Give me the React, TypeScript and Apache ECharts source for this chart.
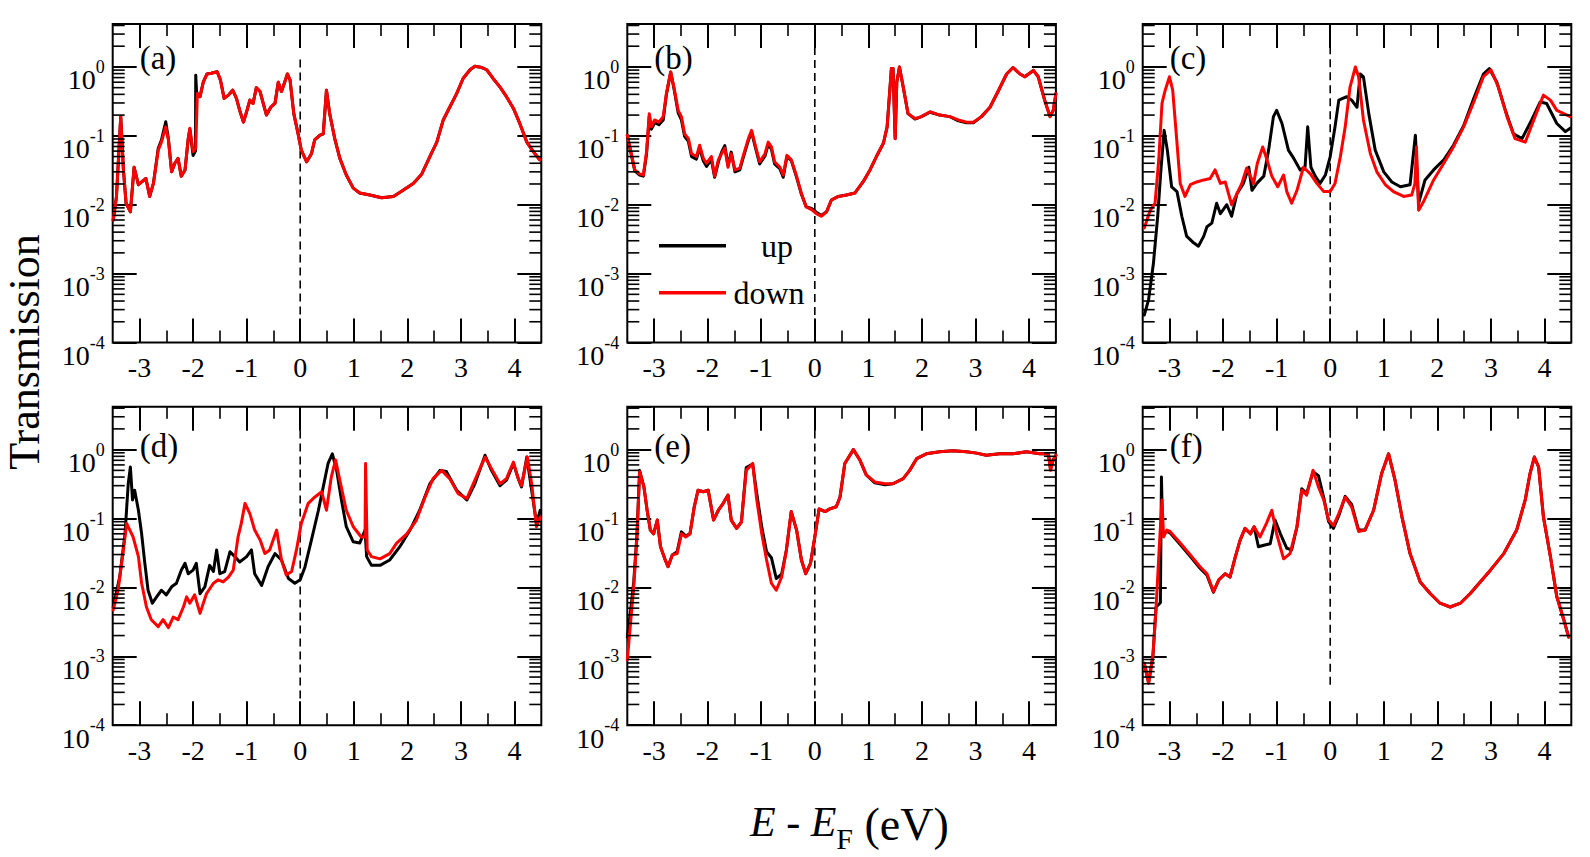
import React, { useEffect, useRef } from 'react';
import * as echarts from 'echarts';

const SERIF = '"Liberation Serif", "Times New Roman", serif';

const X_MIN = -3.5;
const X_MAX = 4.5;
const Y_MIN = 1e-4;
const Y_MAX = 4.2;

const xMajorTicks = [-3, -2, -1, 0, 1, 2, 3, 4];
const xMinorTicks = [-2.5, -1.5, -0.5, 0.5, 1.5, 2.5, 3.5];
const yDecades = [1e-4, 1e-3, 1e-2, 1e-1, 1];
const yMinorMultipliers = [2, 3, 4, 5, 6, 7, 8, 9];
const panelLabels = ['(a)', '(b)', '(c)', '(d)', '(e)', '(f)'];
const legendNames = ['up', 'down'];

// ---------- panel (a) ----------
const aDown = [[-3.49,0.0060],[-3.43,0.013],[-3.35,0.19],[-3.30,0.032],[-3.25,0.0105],[-3.17,0.0079],[-3.10,0.035],[-3.02,0.0195],[-2.96,0.0214],[-2.88,0.024],[-2.81,0.0132],[-2.74,0.0204],[-2.65,0.062],[-2.59,0.081],[-2.51,0.135],[-2.46,0.087],[-2.40,0.030],[-2.34,0.040],[-2.28,0.047],[-2.22,0.026],[-2.15,0.032],[-2.09,0.091],[-2.06,0.129],[-2.00,0.059],[-1.95,0.066],[-1.92,0.41],[-1.87,0.37],[-1.81,0.60],[-1.74,0.79],[-1.66,0.81],[-1.55,0.85],[-1.49,0.65],[-1.42,0.35],[-1.34,0.39],[-1.26,0.46],[-1.19,0.35],[-1.13,0.234],[-1.06,0.158],[-1.00,0.224],[-0.94,0.33],[-0.88,0.295],[-0.82,0.50],[-0.75,0.44],[-0.69,0.295],[-0.63,0.20],[-0.55,0.26],[-0.47,0.295],[-0.41,0.60],[-0.35,0.44],[-0.29,0.60],[-0.24,0.79],[-0.19,0.65],[-0.12,0.21],[-0.04,0.107],[0.02,0.062],[0.12,0.042],[0.21,0.055],[0.27,0.087],[0.37,0.102],[0.43,0.107],[0.49,0.46],[0.55,0.21],[0.65,0.087],[0.74,0.047],[0.86,0.027],[0.99,0.0174],[1.11,0.0148],[1.30,0.0138],[1.52,0.0126],[1.74,0.0132],[1.92,0.0162],[2.11,0.0204],[2.27,0.028],[2.42,0.050],[2.55,0.081],[2.67,0.17],[2.79,0.26],[2.92,0.41],[3.04,0.68],[3.17,0.91],[3.26,1.02],[3.39,0.98],[3.48,0.91],[3.60,0.68],[3.73,0.51],[3.85,0.37],[3.98,0.25],[4.10,0.15],[4.23,0.081],[4.35,0.059],[4.47,0.045]];
const aUp = [[-3.49,0.0060],[-3.43,0.013],[-3.35,0.19],[-3.30,0.032],[-3.25,0.0105],[-3.17,0.0079],[-3.10,0.035],[-3.02,0.0195],[-2.96,0.0214],[-2.88,0.024],[-2.81,0.0132],[-2.74,0.0204],[-2.65,0.066],[-2.59,0.087],[-2.51,0.16],[-2.46,0.090],[-2.40,0.030],[-2.34,0.040],[-2.28,0.047],[-2.22,0.026],[-2.15,0.032],[-2.09,0.091],[-2.06,0.125],[-2.00,0.052],[-1.955,0.060],[-1.95,0.76],[-1.935,0.44],[-1.92,0.41],[-1.87,0.37],[-1.81,0.60],[-1.74,0.79],[-1.66,0.81],[-1.55,0.85],[-1.49,0.65],[-1.42,0.35],[-1.34,0.39],[-1.26,0.46],[-1.19,0.35],[-1.13,0.234],[-1.06,0.158],[-1.00,0.224],[-0.94,0.33],[-0.88,0.295],[-0.82,0.50],[-0.75,0.44],[-0.69,0.295],[-0.63,0.20],[-0.55,0.26],[-0.47,0.30],[-0.41,0.60],[-0.35,0.44],[-0.29,0.60],[-0.24,0.79],[-0.19,0.65],[-0.12,0.21],[-0.04,0.107],[0.02,0.062],[0.12,0.042],[0.21,0.055],[0.27,0.087],[0.37,0.102],[0.43,0.107],[0.49,0.46],[0.55,0.21],[0.65,0.087],[0.74,0.047],[0.86,0.027],[0.99,0.0174],[1.11,0.0148],[1.30,0.0138],[1.52,0.0126],[1.74,0.0132],[1.92,0.0162],[2.11,0.0204],[2.27,0.028],[2.42,0.050],[2.55,0.081],[2.67,0.17],[2.79,0.26],[2.92,0.41],[3.04,0.68],[3.17,0.91],[3.26,1.02],[3.39,0.98],[3.48,0.91],[3.60,0.68],[3.73,0.51],[3.85,0.37],[3.98,0.25],[4.10,0.15],[4.23,0.081],[4.35,0.059],[4.47,0.045]];
const fermiA = [[0,1.28],[0,1e-4]];

// ---------- panel (b) ----------
const bDown = [[-3.50,0.102],[-3.44,0.062],[-3.36,0.032],[-3.27,0.028],[-3.20,0.027],[-3.14,0.059],[-3.09,0.21],[-3.05,0.135],[-2.99,0.17],[-2.91,0.158],[-2.83,0.19],[-2.77,0.41],[-2.69,0.85],[-2.63,0.51],[-2.55,0.234],[-2.49,0.19],[-2.43,0.107],[-2.36,0.091],[-2.30,0.055],[-2.21,0.050],[-2.15,0.073],[-2.08,0.047],[-2.02,0.040],[-1.93,0.050],[-1.87,0.026],[-1.80,0.045],[-1.74,0.055],[-1.68,0.066],[-1.62,0.035],[-1.56,0.055],[-1.49,0.032],[-1.40,0.034],[-1.34,0.050],[-1.24,0.091],[-1.18,0.12],[-1.12,0.078],[-1.03,0.042],[-0.93,0.055],[-0.87,0.081],[-0.81,0.069],[-0.75,0.042],[-0.65,0.035],[-0.59,0.027],[-0.52,0.052],[-0.44,0.045],[-0.34,0.026],[-0.25,0.0145],[-0.16,0.0093],[-0.06,0.0085],[0.03,0.0074],[0.12,0.0068],[0.22,0.0079],[0.31,0.0117],[0.44,0.0132],[0.59,0.0138],[0.75,0.0148],[0.90,0.0214],[1.03,0.032],[1.15,0.050],[1.28,0.078],[1.35,0.135],[1.43,0.95],[1.46,0.95],[1.50,0.091],[1.53,0.60],[1.58,1.0],[1.65,0.51],[1.74,0.21],[1.87,0.178],[1.99,0.19],[2.15,0.224],[2.33,0.20],[2.52,0.19],[2.68,0.17],[2.83,0.158],[2.96,0.158],[3.11,0.19],[3.27,0.26],[3.42,0.44],[3.58,0.79],[3.70,0.98],[3.83,0.79],[3.92,0.72],[4.08,0.89],[4.17,0.72],[4.29,0.33],[4.39,0.19],[4.45,0.234],[4.50,0.41]];
const bUp = [[-3.50,0.102],[-3.44,0.060],[-3.36,0.031],[-3.27,0.027],[-3.20,0.026],[-3.14,0.055],[-3.09,0.19],[-3.05,0.125],[-2.99,0.155],[-2.91,0.145],[-2.83,0.17],[-2.77,0.40],[-2.69,0.84],[-2.63,0.49],[-2.55,0.215],[-2.49,0.17],[-2.43,0.098],[-2.36,0.083],[-2.30,0.050],[-2.21,0.046],[-2.15,0.066],[-2.08,0.043],[-2.02,0.036],[-1.93,0.045],[-1.87,0.025],[-1.80,0.042],[-1.74,0.058],[-1.68,0.072],[-1.62,0.037],[-1.56,0.058],[-1.49,0.030],[-1.40,0.032],[-1.34,0.047],[-1.24,0.086],[-1.18,0.113],[-1.12,0.073],[-1.03,0.039],[-0.93,0.051],[-0.87,0.075],[-0.81,0.064],[-0.75,0.039],[-0.65,0.033],[-0.59,0.025],[-0.52,0.050],[-0.44,0.044],[-0.34,0.025],[-0.25,0.0142],[-0.16,0.0093],[-0.06,0.0088],[0.03,0.0078],[0.12,0.0070],[0.22,0.0079],[0.31,0.0117],[0.44,0.0132],[0.59,0.0138],[0.75,0.0148],[0.90,0.0214],[1.03,0.032],[1.15,0.050],[1.28,0.078],[1.35,0.135],[1.43,0.95],[1.46,0.95],[1.50,0.091],[1.53,0.60],[1.58,1.0],[1.65,0.51],[1.74,0.21],[1.87,0.175],[1.99,0.19],[2.15,0.22],[2.33,0.20],[2.52,0.19],[2.68,0.165],[2.83,0.155],[2.96,0.155],[3.11,0.19],[3.27,0.26],[3.42,0.44],[3.58,0.79],[3.70,0.98],[3.83,0.79],[3.92,0.72],[4.08,0.89],[4.17,0.72],[4.29,0.33],[4.39,0.19],[4.45,0.234],[4.50,0.41]];
const fermiB = [[0,1.95],[0,1e-4]];

// ---------- panel (c) ----------
const cDown = [[-3.47,0.0046],[-3.36,0.0083],[-3.27,0.0105],[-3.20,0.045],[-3.14,0.295],[-3.08,0.46],[-3.00,0.72],[-2.94,0.46],[-2.87,0.098],[-2.80,0.0204],[-2.71,0.0132],[-2.61,0.0195],[-2.49,0.0214],[-2.36,0.0229],[-2.24,0.024],[-2.15,0.032],[-2.05,0.0204],[-1.96,0.0214],[-1.84,0.010],[-1.74,0.0145],[-1.65,0.0204],[-1.56,0.034],[-1.49,0.026],[-1.43,0.0204],[-1.36,0.040],[-1.26,0.069],[-1.18,0.045],[-1.09,0.026],[-0.98,0.0182],[-0.87,0.027],[-0.81,0.0155],[-0.72,0.0105],[-0.62,0.0162],[-0.50,0.035],[-0.37,0.028],[-0.25,0.0204],[-0.12,0.0155],[0.00,0.0155],[0.09,0.0204],[0.19,0.050],[0.28,0.135],[0.37,0.51],[0.47,1.0],[0.53,0.72],[0.62,0.17],[0.75,0.055],[0.87,0.030],[1.03,0.0195],[1.18,0.0155],[1.37,0.0132],[1.52,0.0138],[1.58,0.020],[1.61,0.069],[1.65,0.0083],[1.74,0.011],[1.93,0.0229],[2.12,0.040],[2.30,0.069],[2.49,0.135],[2.68,0.31],[2.86,0.72],[3.00,0.91],[3.14,0.51],[3.30,0.19],[3.45,0.091],[3.64,0.081],[3.80,0.17],[3.98,0.39],[4.11,0.33],[4.23,0.234],[4.36,0.21],[4.48,0.19]];
const cUp = [[-3.47,0.00025],[-3.39,0.00042],[-3.30,0.0014],[-3.22,0.0068],[-3.16,0.032],[-3.10,0.12],[-3.04,0.062],[-2.96,0.0182],[-2.86,0.0155],[-2.77,0.0068],[-2.68,0.0035],[-2.55,0.0028],[-2.46,0.0025],[-2.36,0.0035],[-2.30,0.0048],[-2.21,0.0054],[-2.12,0.0105],[-2.05,0.0074],[-1.93,0.010],[-1.84,0.0068],[-1.74,0.0145],[-1.62,0.0204],[-1.52,0.035],[-1.46,0.0162],[-1.37,0.0204],[-1.24,0.026],[-1.15,0.062],[-1.06,0.19],[-1.00,0.234],[-0.90,0.151],[-0.78,0.062],[-0.68,0.047],[-0.56,0.032],[-0.47,0.035],[-0.42,0.135],[-0.36,0.035],[-0.28,0.026],[-0.19,0.0204],[-0.09,0.027],[0.00,0.050],[0.09,0.135],[0.16,0.33],[0.31,0.37],[0.40,0.33],[0.50,0.26],[0.56,0.79],[0.62,0.72],[0.72,0.21],[0.84,0.062],[1.00,0.030],[1.15,0.0214],[1.31,0.0182],[1.49,0.0195],[1.59,0.102],[1.65,0.0105],[1.77,0.0229],[1.93,0.032],[2.12,0.045],[2.30,0.073],[2.49,0.14],[2.68,0.35],[2.86,0.79],[2.97,0.95],[3.11,0.60],[3.27,0.234],[3.42,0.107],[3.58,0.091],[3.76,0.17],[3.92,0.31],[4.04,0.295],[4.23,0.151],[4.39,0.115],[4.48,0.129]];
const fermiC = [[0,2.0],[0,2.4e-4]];

// ---------- panel (d) ----------
const dUp = [[-3.49,0.0052],[-3.37,0.0141],[-3.27,0.060],[-3.21,0.32],[-3.17,0.56],[-3.13,0.186],[-3.09,0.257],[-3.02,0.132],[-2.96,0.060],[-2.90,0.0224],[-2.84,0.0091],[-2.76,0.0059],[-2.68,0.0073],[-2.59,0.0091],[-2.50,0.0078],[-2.40,0.0102],[-2.31,0.0115],[-2.22,0.0178],[-2.15,0.0224],[-2.09,0.0158],[-2.00,0.0178],[-1.94,0.0224],[-1.87,0.0081],[-1.78,0.0102],[-1.69,0.0209],[-1.62,0.0170],[-1.56,0.035],[-1.50,0.0158],[-1.41,0.0170],[-1.31,0.033],[-1.22,0.028],[-1.13,0.0234],[-1.00,0.028],[-0.91,0.035],[-0.85,0.0158],[-0.72,0.0107],[-0.60,0.020],[-0.47,0.031],[-0.35,0.025],[-0.22,0.0135],[-0.10,0.0115],[0.00,0.0129],[0.09,0.020],[0.21,0.049],[0.34,0.132],[0.43,0.288],[0.52,0.63],[0.60,0.87],[0.68,0.50],[0.77,0.186],[0.86,0.076],[0.99,0.046],[1.11,0.044],[1.21,0.068],[1.24,0.028],[1.33,0.0209],[1.49,0.0209],[1.67,0.025],[1.86,0.039],[2.05,0.068],[2.23,0.132],[2.42,0.32],[2.61,0.50],[2.73,0.48],[2.92,0.257],[3.11,0.186],[3.26,0.32],[3.45,0.83],[3.57,0.50],[3.73,0.30],[3.85,0.36],[3.98,0.63],[4.07,0.38],[4.13,0.288],[4.23,0.78],[4.32,0.257],[4.41,0.085],[4.48,0.132]];
const dDown = [[-3.49,0.0047],[-3.40,0.0091],[-3.30,0.035],[-3.24,0.085],[-3.18,0.068],[-3.12,0.054],[-3.02,0.028],[-2.96,0.0115],[-2.87,0.0052],[-2.78,0.0034],[-2.65,0.0027],[-2.56,0.0034],[-2.46,0.0026],[-2.37,0.0037],[-2.28,0.0034],[-2.18,0.0052],[-2.12,0.0073],[-2.06,0.0059],[-1.97,0.0078],[-1.87,0.0042],[-1.75,0.0081],[-1.62,0.0115],[-1.53,0.0129],[-1.44,0.012],[-1.34,0.0141],[-1.25,0.0178],[-1.16,0.054],[-1.10,0.085],[-1.03,0.166],[-0.94,0.118],[-0.85,0.068],[-0.75,0.049],[-0.66,0.031],[-0.57,0.035],[-0.44,0.068],[-0.35,0.025],[-0.26,0.0151],[-0.16,0.0170],[-0.07,0.035],[0.02,0.085],[0.15,0.166],[0.27,0.204],[0.40,0.245],[0.49,0.132],[0.58,0.40],[0.66,0.71],[0.74,0.36],[0.86,0.132],[0.99,0.076],[1.14,0.054],[1.21,0.054],[1.22,0.63],[1.25,0.035],[1.33,0.028],[1.49,0.026],[1.67,0.031],[1.80,0.044],[1.99,0.060],[2.17,0.095],[2.33,0.204],[2.48,0.38],[2.64,0.50],[2.79,0.38],[2.95,0.229],[3.11,0.195],[3.26,0.36],[3.45,0.78],[3.57,0.53],[3.73,0.32],[3.85,0.38],[3.98,0.66],[4.07,0.38],[4.13,0.30],[4.24,0.78],[4.32,0.32],[4.41,0.076],[4.48,0.105]];
const fermiD = [[0,1.9],[0,1e-4]];

// ---------- panel (e) ----------
const eDown = [[-3.50,0.00089],[-3.44,0.0030],[-3.38,0.0102],[-3.32,0.054],[-3.27,0.48],[-3.19,0.288],[-3.13,0.132],[-3.07,0.068],[-3.01,0.060],[-2.94,0.095],[-2.88,0.039],[-2.80,0.026],[-2.74,0.020],[-2.66,0.0295],[-2.57,0.031],[-2.49,0.060],[-2.41,0.054],[-2.33,0.060],[-2.25,0.148],[-2.18,0.257],[-2.08,0.245],[-1.99,0.257],[-1.89,0.095],[-1.80,0.132],[-1.71,0.166],[-1.62,0.219],[-1.56,0.095],[-1.46,0.072],[-1.37,0.089],[-1.28,0.50],[-1.16,0.63],[-1.09,0.204],[-0.99,0.060],[-0.90,0.025],[-0.81,0.0115],[-0.72,0.0091],[-0.62,0.0141],[-0.53,0.035],[-0.44,0.126],[-0.34,0.068],[-0.25,0.025],[-0.17,0.0158],[-0.08,0.0224],[0.00,0.054],[0.08,0.138],[0.19,0.126],[0.28,0.138],[0.40,0.148],[0.47,0.204],[0.56,0.63],[0.72,1.0],[0.84,0.71],[0.96,0.43],[1.12,0.34],[1.31,0.32],[1.46,0.32],[1.65,0.38],[1.77,0.50],[1.90,0.74],[2.08,0.87],[2.33,0.93],[2.58,0.96],[2.83,0.93],[3.02,0.89],[3.20,0.83],[3.45,0.87],[3.70,0.87],[3.95,0.93],[4.20,0.87],[4.36,0.87],[4.40,0.50],[4.45,0.71],[4.50,0.83]];
const eUp = [[-3.50,0.0019],[-3.44,0.0045],[-3.38,0.012],[-3.32,0.058],[-3.27,0.50],[-3.19,0.288],[-3.13,0.132],[-3.07,0.068],[-3.01,0.060],[-2.94,0.095],[-2.88,0.039],[-2.80,0.026],[-2.74,0.020],[-2.66,0.0295],[-2.57,0.033],[-2.49,0.064],[-2.41,0.056],[-2.33,0.060],[-2.25,0.148],[-2.18,0.257],[-2.08,0.245],[-1.99,0.257],[-1.89,0.095],[-1.80,0.132],[-1.71,0.166],[-1.62,0.219],[-1.56,0.095],[-1.46,0.072],[-1.37,0.089],[-1.28,0.55],[-1.16,0.62],[-1.09,0.25],[-0.99,0.075],[-0.90,0.033],[-0.81,0.027],[-0.72,0.0135],[-0.62,0.0155],[-0.53,0.035],[-0.44,0.126],[-0.34,0.068],[-0.25,0.025],[-0.17,0.0158],[-0.08,0.0224],[0.00,0.054],[0.08,0.138],[0.19,0.126],[0.28,0.138],[0.40,0.148],[0.47,0.204],[0.56,0.63],[0.72,1.0],[0.84,0.71],[0.96,0.43],[1.12,0.33],[1.31,0.31],[1.46,0.32],[1.65,0.38],[1.77,0.50],[1.90,0.74],[2.08,0.87],[2.33,0.93],[2.58,0.96],[2.83,0.93],[3.02,0.89],[3.20,0.83],[3.45,0.87],[3.70,0.87],[3.95,0.93],[4.20,0.87],[4.36,0.87],[4.40,0.52],[4.45,0.71],[4.50,0.83]];
const fermiE = [[0,1.9],[0,1e-4]];

// ---------- panel (f) ----------
const fDown = [[-3.47,0.00079],[-3.39,0.00041],[-3.31,0.0010],[-3.25,0.0052],[-3.19,0.039],[-3.14,0.186],[-3.11,0.054],[-3.05,0.068],[-2.99,0.065],[-2.80,0.044],[-2.61,0.0295],[-2.43,0.020],[-2.30,0.0158],[-2.18,0.0087],[-2.08,0.0129],[-1.96,0.0158],[-1.87,0.0141],[-1.77,0.028],[-1.68,0.049],[-1.59,0.072],[-1.49,0.060],[-1.42,0.076],[-1.31,0.054],[-1.19,0.085],[-1.09,0.132],[-1.00,0.060],[-0.87,0.026],[-0.75,0.031],[-0.62,0.076],[-0.53,0.257],[-0.44,0.219],[-0.32,0.50],[-0.22,0.288],[-0.12,0.186],[-0.03,0.095],[0.06,0.079],[0.16,0.118],[0.28,0.204],[0.40,0.148],[0.53,0.065],[0.65,0.068],[0.81,0.132],[0.96,0.45],[1.09,0.87],[1.21,0.36],[1.34,0.105],[1.49,0.031],[1.68,0.012],[1.87,0.0081],[2.05,0.0059],[2.24,0.0052],[2.43,0.0059],[2.61,0.0081],[2.80,0.012],[2.99,0.0178],[3.24,0.031],[3.48,0.068],[3.64,0.186],[3.73,0.45],[3.81,0.78],[3.89,0.56],[3.98,0.105],[4.11,0.028],[4.23,0.0073],[4.36,0.0034],[4.45,0.0019]];
const fUp = [[-3.47,0.00079],[-3.39,0.00041],[-3.31,0.0010],[-3.25,0.0052],[-3.17,0.0060],[-3.15,0.40],[-3.13,0.070],[-3.11,0.060],[-3.05,0.065],[-2.99,0.062],[-2.80,0.042],[-2.61,0.028],[-2.43,0.019],[-2.30,0.0150],[-2.18,0.0085],[-2.08,0.0129],[-1.96,0.0158],[-1.87,0.0141],[-1.77,0.028],[-1.68,0.049],[-1.59,0.072],[-1.49,0.060],[-1.42,0.076],[-1.34,0.039],[-1.24,0.041],[-1.12,0.043],[-1.03,0.095],[-0.93,0.060],[-0.81,0.037],[-0.72,0.035],[-0.62,0.076],[-0.53,0.27],[-0.44,0.23],[-0.32,0.48],[-0.22,0.42],[-0.12,0.20],[-0.03,0.090],[0.06,0.072],[0.16,0.110],[0.28,0.21],[0.40,0.16],[0.53,0.068],[0.65,0.068],[0.81,0.132],[0.96,0.45],[1.09,0.87],[1.21,0.36],[1.34,0.105],[1.49,0.031],[1.68,0.012],[1.87,0.0081],[2.05,0.0059],[2.24,0.0052],[2.43,0.0059],[2.61,0.0081],[2.80,0.012],[2.99,0.0178],[3.24,0.031],[3.48,0.068],[3.64,0.186],[3.73,0.45],[3.81,0.78],[3.89,0.56],[3.98,0.105],[4.11,0.028],[4.23,0.0073],[4.36,0.0034],[4.45,0.0019]];
const fermiF = [[0,3.0],[0,3.6e-4]];

const panels = [
  { up: aUp, down: aDown, fermi: fermiA },
  { up: bUp, down: bDown, fermi: fermiB },
  { up: cUp, down: cDown, fermi: fermiC },
  { up: dUp, down: dDown, fermi: fermiD },
  { up: eUp, down: eDown, fermi: fermiE },
  { up: fUp, down: fDown, fermi: fermiF },
];

// layout (pixels)
const GRID_LEFTS = [112.7, 627.3, 1142.7];
const GRID_TOPS = [24, 406.7];
const GRID_W = 428.6;
const GRID_H = 318.5;

function buildOption() {
  const yMinorTicks: number[] = [];
  yDecades.forEach((d) => yMinorMultipliers.forEach((m) => {
    const v = d * m;
    if (v < Y_MAX) yMinorTicks.push(v);
  }));

  const grid: any[] = [];
  const xAxis: any[] = [];
  const yAxis: any[] = [];
  const series: any[] = [];
  const graphic: any[] = [];

  const tickLine = { color: '#000', width: 2 };
  const minorLine = { color: '#000', width: 1.6 };

  panels.forEach((p, i) => {
    const row = Math.floor(i / 3);
    const col = i % 3;
    const left = GRID_LEFTS[col];
    const top = GRID_TOPS[row];
    grid.push({ left, top, width: GRID_W, height: GRID_H, show: true, borderColor: '#000', borderWidth: 2, backgroundColor: 'transparent' });

    const baseX = { type: 'value', gridIndex: i, min: X_MIN, max: X_MAX, axisLine: { show: false, onZero: false }, splitLine: { show: false } };
    xAxis.push({ ...baseX, position: 'bottom',
      axisTick: { show: true, inside: true, length: 24, customValues: xMajorTicks, lineStyle: tickLine },
      axisLabel: { show: true, customValues: xMajorTicks, color: '#000', fontFamily: SERIF, fontSize: 28, margin: 11 } });
    xAxis.push({ ...baseX, position: 'bottom',
      axisTick: { show: true, inside: true, length: 12, customValues: xMinorTicks, lineStyle: minorLine },
      axisLabel: { show: false } });
    xAxis.push({ ...baseX, position: 'top',
      axisTick: { show: true, inside: true, length: 24, customValues: xMajorTicks, lineStyle: tickLine },
      axisLabel: { show: false } });
    xAxis.push({ ...baseX, position: 'top',
      axisTick: { show: true, inside: true, length: 12, customValues: xMinorTicks, lineStyle: minorLine },
      axisLabel: { show: false } });

    const baseY = { type: 'log', logBase: 10, gridIndex: i, min: Y_MIN, max: Y_MAX, axisLine: { show: false, onZero: false }, splitLine: { show: false }, minorTick: { show: false } };
    yAxis.push({ ...baseY, position: 'left',
      axisTick: { show: true, inside: true, length: 24, lineStyle: tickLine },
      axisLabel: {
        show: true, margin: 8, padding: [10, 0, 0, 0], color: '#000', fontFamily: SERIF,
        formatter: (v: number) => {
          const lg = Math.log10(v);
          const e = Math.round(lg);
          if (Math.abs(lg - e) > 0.01) return '';
          return `{b|10}{s|${e}}`;
        },
        rich: {
          b: { fontFamily: SERIF, fontSize: 28, lineHeight: 28, padding: [8, 0, 0, 0], verticalAlign: 'top', color: '#000' },
          s: { fontFamily: SERIF, fontSize: 18, lineHeight: 18, verticalAlign: 'top', color: '#000' },
        },
      } });
    yAxis.push({ ...baseY, position: 'right',
      axisTick: { show: true, inside: true, length: 24, lineStyle: tickLine },
      axisLabel: { show: false } });

    const xi = i * 4;
    const yi = i * 2;
    series.push({ type: 'line', name: 'EF' + i, xAxisIndex: xi, yAxisIndex: yi, data: p.fermi, symbol: 'none', silent: true,
      lineStyle: { color: '#000', width: 1.6, type: [8, 5] }, z: 1 });
    series.push({ type: 'line', name: 'up', xAxisIndex: xi, yAxisIndex: yi, data: p.up, symbol: 'none', showSymbol: false,
      lineStyle: { color: '#000', width: 3, join: 'round', cap: 'round' }, itemStyle: { color: '#000' }, z: 2 });
    series.push({ type: 'line', name: 'down', xAxisIndex: xi, yAxisIndex: yi, data: p.down, symbol: 'none', showSymbol: false,
      lineStyle: { color: '#ff0000', width: 3, join: 'round', cap: 'round' }, itemStyle: { color: '#ff0000' }, z: 3 });
    series.push({ type: 'custom', name: 'minor' + i, xAxisIndex: xi, yAxisIndex: yi, silent: true, clip: false, z: 5,
      data: yMinorTicks.map((v) => [X_MIN, v]),
      renderItem: (params: any, api: any) => {
        const v = api.value(1);
        const pl = api.coord([X_MIN, v]);
        const pr = api.coord([X_MAX, v]);
        const st = { stroke: '#000', lineWidth: 1.6 };
        return { type: 'group', children: [
          { type: 'line', shape: { x1: pl[0], y1: pl[1], x2: pl[0] + 12, y2: pl[1] }, style: st },
          { type: 'line', shape: { x1: pr[0] - 12, y1: pr[1], x2: pr[0], y2: pr[1] }, style: st },
        ] };
      } });

    graphic.push({ type: 'text', x: left + 27, y: top + (row === 0 ? 34 : 39), silent: true,
      style: { text: panelLabels[i], font: `33px ${SERIF}`, fill: '#000', align: 'left', verticalAlign: 'middle', textVerticalAlign: 'middle' } });
  });

  graphic.push({ type: 'text', x: 24, y: 352, rotation: Math.PI / 2, silent: true,
    style: { text: 'Transmission', font: `44px ${SERIF}`, fill: '#000', align: 'center', verticalAlign: 'middle', textAlign: 'center', textVerticalAlign: 'middle' } });

  graphic.push({ type: 'text', x: 750, y: 801, silent: true,
    style: {
      text: '{i|E}{n| - }{i|E}{s|F}{v| (eV)}',
      fill: '#000',
      font: `42px ${SERIF}`,
      rich: {
        i: { fontFamily: SERIF, fontSize: 42, fontStyle: 'italic', lineHeight: 42, verticalAlign: 'top', fill: '#000' },
        n: { fontFamily: SERIF, fontSize: 42, lineHeight: 42, verticalAlign: 'top', fill: '#000' },
        v: { fontFamily: SERIF, fontSize: 46, lineHeight: 42, verticalAlign: 'top', fill: '#000' },
        s: { fontFamily: SERIF, fontSize: 30, lineHeight: 24, padding: [22, 0, 0, 0], verticalAlign: 'top', fill: '#000' },
      },
    } });

  return {
    animation: false,
    backgroundColor: '#fff',
    grid,
    xAxis,
    yAxis,
    series,
    graphic,
    legend: {
      data: legendNames,
      left: 659,
      top: 229.7,
      orient: 'vertical',
      padding: 0,
      itemWidth: 67,
      itemHeight: 32,
      itemGap: 15,
      icon: 'path://M0,0H67V3.5H0Z',
      selectedMode: false,
      formatter: (n: string) => (n === 'up' ? `{u|${n}}` : `{t|${n}}`),
      textStyle: {
        color: '#000',
        fontFamily: SERIF,
        fontSize: 32,
        rich: {
          t: { fontFamily: SERIF, fontSize: 32, lineHeight: 32, width: 76, align: 'center', color: '#000' },
          u: { fontFamily: SERIF, fontSize: 32, lineHeight: 32, width: 76, align: 'center', padding: [0, 0, 0, 8], color: '#000' },
        },
      },
    },
  };
}

export default function App() {
  const ref = useRef<HTMLDivElement>(null);
  useEffect(() => {
    if (!ref.current) return;
    const chart = echarts.init(ref.current, null, { renderer: 'svg' });
    chart.setOption(buildOption() as any);
    return () => chart.dispose();
  }, []);
  return <div ref={ref} style={{ position: 'fixed', left: 0, top: 0, width: 1590, height: 857, background: '#fff' }} />;
}
